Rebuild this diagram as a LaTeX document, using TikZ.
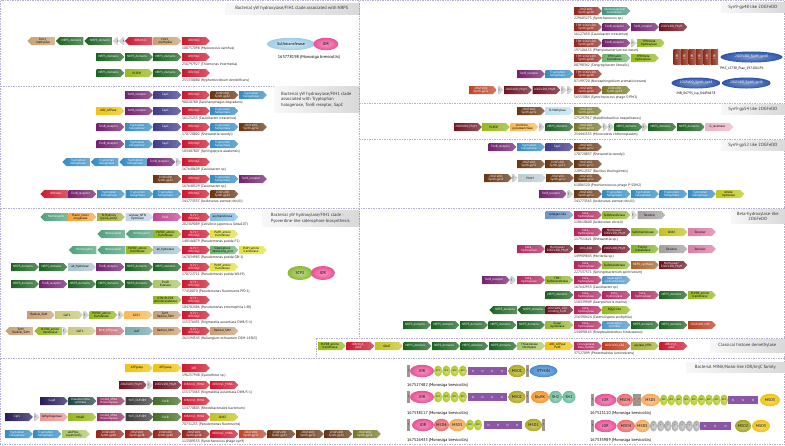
\documentclass[tikz,border=0pt]{standalone}
\usepackage{fontspec}
\setmainfont{PT Sans}
\usetikzlibrary{shapes.symbols,shapes.geometric,positioning,shadows}

\newcommand\genefont{\fontsize{3.1}{3.3}\selectfont}
\newcommand\accfont{\fontsize{3.6}{4}\selectfont}
\newcommand\headfont{\fontsize{4.5}{5.4}\selectfont}
\newcommand\domfont{\fontsize{4}{4.4}\selectfont}

% gene types: style name, colour, text colour
\newcommand\gtype[3]{\definecolor{c#1}{RGB}{#2}%
  \tikzset{#1/.style={left color=c#1, right color=c#1!72!white, text=#3}}}
\gtype{gnrps}{30,100,35}{white}
\gtype{gjor}{205,25,50}{white}
\gtype{gtonb}{115,35,110}{white}
\gtype{gsapc}{65,60,140}{white}
\gtype{gtrp}{55,140,195}{white}
\gtype{gs48}{150,40,30}{white}
\gtype{gs52}{105,55,20}{white}
\gtype{gs52r}{190,70,40}{white}
\gtype{gs54}{120,120,40}{white}
\gtype{gphyh}{110,20,35}{white}
\gtype{gcmr}{200,160,115}{black}
\gtype{ghemo}{80,160,125}{white}
\gtype{gplp}{150,185,30}{black}
\gtype{gyel}{225,225,70}{black}
\gtype{gabc}{240,195,20}{black}
\gtype{gbeta}{180,40,95}{white}
\gtype{gsulfo}{150,185,55}{black}
\gtype{gtet}{165,160,160}{black}
\gtype{gtetp}{220,125,165}{black}
\gtype{ggnat}{195,195,40}{black}
\gtype{ggat}{200,200,125}{black}
\gtype{gteal}{120,170,170}{black}
\gtype{gflav}{245,165,55}{black}
\gtype{golv}{165,175,60}{black}
\gtype{gacyl}{195,210,230}{black}
\gtype{gpvd}{195,70,145}{white}
\gtype{gablh}{170,195,205}{black}
\gtype{gnavy}{40,30,90}{white}
\gtype{gdteal}{35,70,70}{white}
\gtype{gmnm}{150,50,100}{white}
\gtype{gdgrey}{60,60,60}{white}
\gtype{gpurb}{70,110,40}{white}
\gtype{grose}{230,150,150}{black}
\gtype{glblue}{190,225,240}{black}
\gtype{gcoll}{110,150,200}{black}
\gtype{gorng}{250,185,80}{black}
\gtype{gamide}{190,200,30}{black}
\gtype{gbrn}{170,100,40}{white}
\gtype{gasn}{80,150,200}{white}
\gtype{gcas}{190,60,30}{white}
\gtype{gracem}{235,180,200}{black}
\gtype{gformyl}{130,180,40}{black}
\gtype{gsid}{110,180,110}{black}
\gtype{gacyt}{130,190,225}{black}
\gtype{gphoh}{190,205,210}{black}
\gtype{gtrans}{70,150,130}{white}
\gtype{gbtrk}{200,110,120}{white}
\gtype{gthio}{170,200,100}{black}
\gtype{gq}{205,205,205}{black}
\tikzset{gq/.append style={minimum width=5.5, inner xsep=0pt}}

\definecolor{cframe}{RGB}{180,175,210}
\definecolor{cdjor}{RGB}{235,80,150}
\definecolor{cdscc}{RGB}{175,200,40}
\definecolor{cdn}{RGB}{140,85,165}
\definecolor{cdmsdone}{RGB}{175,170,30}
\definecolor{cdmsdtwo}{RGB}{165,165,30}
\definecolor{cdmsdthree}{RGB}{240,195,20}
\definecolor{cdmsdfour}{RGB}{235,110,110}
\definecolor{cdmsdfive}{RGB}{245,170,90}
\definecolor{cdsty}{RGB}{70,140,210}
\definecolor{cdgly}{RGB}{245,150,40}
\definecolor{cdsh}{RGB}{110,190,160}
\definecolor{cdgrey}{RGB}{170,170,170}
\definecolor{cdq}{RGB}{160,150,140}
\definecolor{cdsulfo}{RGB}{160,205,230}
\definecolor{cdscp}{RGB}{140,185,50}
\definecolor{cdtpr}{RGB}{140,45,25}
\definecolor{cdgp}{RGB}{45,85,170}

% one row of gene arrows: name, y, list of x/direction/type/text
\newcommand\generow[3]{\foreach \gx/\gd/\gs/\gt [count=\gi] in {#3}
  {\node[gene,\gd,\gs] (#1-\gi) at (\gx,#2) {\gt};}}

\begin{document}
\begin{tikzpicture}[x=1pt, y=-1pt,
  gene/.style={signal, signal to=east, anchor=west, minimum width=27.6, minimum height=8,
    inner xsep=0.5pt, inner ysep=0pt, font=\genefont, align=center},
  pr/.style={signal to=east}, pl/.style={signal to=west},
  acc/.style={anchor=west, font=\accfont, inner sep=0pt, text=black!85},
  panel/.style={draw=cframe, line width=0.6pt, dash pattern=on 1.5pt off 1pt},
  head/.style={anchor=north east, font=\headfont, text=black!80, left color=gray!6,
    right color=gray!30, inner sep=1.6pt, align=left,
    drop shadow={shadow xshift=0.7pt, shadow yshift=-0.7pt, opacity=0.3}},
  dom/.style={ellipse, font=\domfont, inner sep=0pt, minimum height=12.5,
    shading=radial},
  scc/.style={ellipse, inner sep=0pt, minimum width=8.2, minimum height=11,
    font=\fontsize{2.4}{2.6}\selectfont, shading=radial, inner color=cdscc!60!white,
    outer color=cdscc},
  nseg/.style={rectangle, inner sep=0pt, minimum height=8, fill=cdn, text=white,
    font=\fontsize{3}{3.2}\selectfont},
  qbox/.style={rectangle, inner sep=0pt, minimum width=3.6, minimum height=12,
    fill=cdq, font=\fontsize{2.6}{2.8}\selectfont},
  tprbox/.style={rectangle, inner sep=0pt, minimum width=7, minimum height=15,
    left color=cdtpr, right color=cdtpr!70!white, text=white,
    font=\fontsize{3}{3.2}\selectfont},
  spec/.style={anchor=west, font=\fontsize{4.2}{4.6}\selectfont, inner sep=0pt}]
\useasboundingbox (0,0) rectangle (785,445);

% panel frames
\draw[panel] (0.5,0.5) rectangle (784.5,444.5);
\draw[panel] (359,0.5) -- (359,338);
\draw[panel] (0.5,86) -- (359,86);
\draw[panel] (0.5,208) -- (784.5,208);
\draw[panel] (359,103) -- (784.5,103);
\draw[panel] (359,139) -- (784.5,139);
\draw[panel] (316,338) -- (784.5,338);
\draw[panel] (316,338) -- (316,358);
\draw[panel] (0.5,358) -- (784.5,358);

% panel titles
\node[head, minimum width=134, minimum height=11] (t-nrps) at (359,3)
  {Bacterial yW hydroxylase/FIH1 clade associated with NRPS};
\node[head, minimum width=85, minimum height=26] (t-trp) at (359,86.5)
  {Bacterial yW hydroxylase/FIH1 clade\\associated with Tryptophan\\halogenase, TonB receptor, SapC};
\node[head, minimum width=97, minimum height=16] (t-pvd) at (359,210)
  {Bacterial yW hydroxylase/FIH1 clade :\\Pyoverdine-like siderophore biosynthesis};
\node[head, minimum width=64, minimum height=10] (t-gp48) at (785,2) {Syn9-gp48 like 2OGFeDO};
\node[head, minimum width=64, minimum height=10] (t-gp54) at (785,104) {Syn9-gp54 like 2OGFeDO};
\node[head, minimum width=64, minimum height=10] (t-gp52) at (785,140) {Syn9-gp52 like 2OGFeDO};
\node[head, minimum width=54, minimum height=14, align=center] (t-beta) at (785,209)
  {Beta-hydroxylase-like\\2OGFeDO};
\node[head, minimum width=75, minimum height=13] (t-hist) at (785,339) {Classical histone demethylase};
\node[head, minimum width=99, minimum height=10] (t-mina) at (785,362)
  {Bacterial MINA/No66-like JOR/JmjC family};

% NRPS clade
\generow{na}{41}{27/pl/gcmr/{Cmr1\_\\methylase}, 55.5/pl/gnrps/NRPS\_domains, 84/pl/gnrps/NRPS\_domains,
  112.5/pl/gq/2, 118.5/pl/gq/3, 124.5/pl/gjor/{JOR/JmjC}, 153.5/pr/gcmr/{Cmr1\_\\methylase},
  182/pr/gjor/{JOR/JmjC}}
\node[acc] (na-id) at (182,49) {108757098 (Myxococcus xanthus)};
\generow{nb}{57}{96.5/pr/gnrps/NRPS\_domains, 125/pr/gnrps/NRPS\_domains, 153.5/pr/gnrps/NRPS\_domains,
  182/pr/gjor/{JOR/JmjC}}
\node[acc] (nb-id) at (182,65) {256797927 (Thiomonas intermedia)};
\generow{nc}{73}{96.5/pr/gnrps/NRPS\_domains, 125/pr/gplp/PLPDE, 153.5/pr/gnrps/NRPS\_domains,
  182/pr/gjor/{JOR/JmjC}}
\node[acc] (nc-id) at (182,81) {255330080 (Hyphomicrobium denitrificans)};
\node[dom, inner color=cdsulfo!50!white, outer color=cdsulfo, minimum width=48] (n-sulfo) at (291,44) {Sulfotransferase};
\node[dom, inner color=cdjor!60!white, outer color=cdjor, minimum width=25, right=-2pt of n-sulfo] (n-jor) {JOR};
\node[font=\fontsize{4.3}{4.6}\selectfont, inner sep=0pt] (n-id) at (309,57) {163778198 (Monosiga brevicollis)};

% Tryptophan halogenase / TonB / SapC clade
\generow{ta}{95}{125/pr/gtonb/TonB\_receptor, 153.5/pr/gsapc/SapC, 182/pr/gjor/{JOR/JmjC},
  210.5/pr/gs52/{2OGFeDO\\Synth-gp52}, 239/pr/gtrp/{Tryptophan\\halogenase}}
\node[acc] (ta-id) at (182,103) {90020780 (Saccharophagus degradans)};
\generow{tb}{111}{96.5/pr/gabc/ABC\_ATPase, 125/pr/gtonb/TonB\_receptor, 153.5/pr/gsapc/SapC,
  182/pr/gjor/{JOR/JmjC}, 210.5/pr/gtrp/{Tryptophan\\halogenase}}
\node[acc] (tb-id) at (182,119) {16125253 (Caulobacter crescentus)};
\generow{tc}{127}{96.5/pr/gtonb/TonB\_receptor, 125/pr/gtrp/{Tryptophan\\halogenase}, 153.5/pr/gsapc/SapC,
  182/pr/gjor/{JOR/JmjC}, 210.5/pr/gtrp/{Tryptophan\\halogenase}, 239/pr/gs52/{2OGFeDO\\Synth-gp52}}
\node[acc] (tc-id) at (182,135) {170720802 (Shewanella woodyi)};
\generow{td}{144}{96.5/pr/gtonb/TonB\_receptor, 125/pr/gtrp/{Tryptophan\\halogenase}, 153.5/pr/gsapc/SapC,
  182/pr/gjor/{JOR/JmjC}, 210.5/pr/gtrp/{Tryptophan\\halogenase}}
\node[acc] (td-id) at (182,152) {103487807 (Sphingopyxis alaskensis)};
\generow{te}{162}{62/pl/gtrp/{Tryptophan\\halogenase}, 90.5/pl/gtrp/{Tryptophan\\halogenase},
  119/pl/gtrp/{Tryptophan\\halogenase}, 147.5/pr/gtonb/TonB\_receptor, 175.8/pr/gq/?, 182/pr/gjor/{JOR/JmjC}}
\node[acc] (te-id) at (182,170) {167648609 (Caulobacter sp.)};
\generow{tf}{179}{153.5/pr/gs52/{2OGFeDO\\Synth-gp52}, 182/pr/gjor/{JOR/JmjC},
  210.5/pr/gtrp/{Tryptophan\\halogenase}, 239/pr/gtonb/TonB\_receptor}
\node[acc] (tf-id) at (182,187) {167640329 (Caulobacter sp.)};
\generow{tg}{194}{40/pl/gjor/{JOR/JmjC}, 68.5/pr/gtonb/TonB\_receptor, 97/pr/gtrp/{Tryptophan\\halogenase},
  125.5/pr/gtrp/{Tryptophan\\halogenase}, 153.5/pr/gtrp/{Tryptophan\\halogenase}, 182/pr/gjor/{JOR/JmjC},
  210.5/pr/gs52/{2OGFeDO\\Synth-gp52}}
\node[acc] (tg-id) at (182,202) {241773337 (Acidovorax avenae citrulli)};

% Pyoverdine-like siderophore clade
\generow{pa}{217}{40/pl/ghemo/Hemocyanin, 68.5/pr/gflav/{Flavin\_mono\\oxygenase}, 97/pr/golv/{N-Hydroxy\\lysine\_acetyl},
  125.5/pr/gacyl/{acylase\_NTN\\hydrolase}, 153.5/pr/gpvd/PvdL, 182/pr/gjor/{SCP2+\\JOR/JmjC},
  210.5/pr/gacyt/acyltransferase}
\node[acc] (pa-id) at (182,225) {282369089 (Cellvibrio japonicus Ueda107)};
\generow{pb}{234}{97/pl/ghemo/Hemocyanin, 125.5/pl/ghemo/Hemocyanin, 153.5/pr/gplp/{PLPDE\_amino\\transferase},
  182/pr/gjor/{SCP2+\\JOR/JmjC}, 210.5/pr/gyel/{PvdH\_amino\\transferase}}
\node[acc] (pb-id) at (182,242) {148546879 (Pseudomonas putida F1)};
\generow{pc}{250}{68.5/pl/ghemo/Hemocyanin, 97/pl/ghemo/Hemocyanin, 125.5/pr/gplp/{PLPDE\_amino\\transferase},
  153.5/pr/gablh/ab\_hydrolase, 182/pr/gjor/{SCP2+\\JOR/JmjC}, 210.5/pr/gsid/{Siderophore\\interacting\_prot},
  239/pr/gyel/{PvdH\_amino\\transferase}}
\node[acc] (pc-id) at (182,258) {167034983 (Pseudomonas putida GB-1)};
\generow{pd}{267}{11/pr/gnrps/NRPS\_domains, 39.5/pr/gnrps/NRPS\_domains, 68/pr/gablh/ab\_hydrolase,
  96.5/pr/gtonb/TonB\_receptor, 125/pr/gnrps/NRPS\_domains, 153.5/pr/gnrps/NRPS\_domains,
  182/pr/gjor/{SCP2+\\JOR/JmjC}, 210.5/pr/gyel/{PvdH\_amino\\transferase}}
\node[acc] (pd-id) at (182,275) {170722711 (Pseudomonas putida W619)};
\generow{pe}{284}{11/pr/gnrps/NRPS\_domains, 39.5/pr/gtonb/TonB\_receptor, 68/pr/gnrps/NRPS\_domains,
  96.5/pr/gnrps/NRPS\_domains, 125/pr/gnrps/NRPS\_domains, 153.5/pr/gthio/{PvdO\\Esterase},
  182/pr/gjor/{SCP2+\\JOR/JmjC}}
\node[acc] (pe-id) at (182,292) {77458070 (Pseudomonas fluorescens Pf0-1)};
\generow{pf}{300}{153.5/pr/gplp/{KTN+PLPDE\\aminotransferase}, 182/pr/gjor/{SCP2+\\JOR/JmjC}}
\node[acc] (pf-id) at (182,308) {104782486 (Pseudomonas entomophila L48)};
\generow{pg}{315}{27/pr/gcmr/Radical\_SAM, 55/pr/ggat/GAT1, 83.5/pr/gq/?, 89.5/pr/gplp/{PLPDE\_amino\\transferase},
  118.5/pr/gq/?, 124.5/pr/gorng/GCS2, 153.5/pr/gcmr/{TyrM\_\\Radical\_SAM}, 182/pr/gjor/{SCP2+\\JOR/JmjC}}
\node[acc] (pg-id) at (182,323) {115376491 (Stigmatella aurantiaca DW4/3-1)};
\generow{ph}{331}{5/pl/gcmr/{TyrM\_\\Radical\_SAM}, 34/pl/gplp/{PLPDE\_amino\\transferase}, 62.5/pr/gq/?,
  68/pr/ggat/GAT1, 96.5/pr/gbtrk/BtrK\_ATPgrasp, 125/pr/gteal/GAT, 153.5/pr/gcmr/Radical\_SAM,
  182/pr/gjor/{SCP2+\\JOR/JmjC}, 210.5/pr/gcmr/Radical\_SAM}
\node[acc] (ph-id) at (182,339) {262194543 (Haliangium ochraceum DSM 14365)};
\node[dom, inner color=cdscp!55!white, outer color=cdscp, minimum width=25, minimum height=14] (p-scp) at (300,273) {SCP2};
\node[dom, inner color=cdjor!60!white, outer color=cdjor, minimum width=24, minimum height=14, right=-2pt of p-scp] (p-jor) {JOR};

% MINA-like JOR/JmjC genes
\generow{ma}{368}{125/pr/gabc/ATPgrasp, 153.5/pr/gabc/ATPgrasp, 182/pr/gjor/JOR/JmjC\_MINA}
\node[acc] (ma-id) at (182,376) {196257948 (Cyanothece sp.)};
\generow{mb}{385}{119/pr/gphyh/2OGFeDO\_PhyH, 147.3/pr/gq/?, 153.5/pr/gphyh/2OGFeDO\_PhyH,
  182/pr/gjor/{JOR/JmjC\_MINA}, 210.5/pr/gjor/{JOR/JmjC\_MINA}}
\node[acc] (mb-id) at (182,393) {115375463 (Stigmatella aurantiaca DW4/3-1)};
\generow{mc}{401}{40/pr/gnavy/Cup8, 68.5/pr/gdteal/{Pseudouridine\\synthase}, 97/pr/gmnm/{mnmA\_tRNA\\thiouridylase},
  125.5/pr/gdgrey/YcfC\_DUF489, 153.5/pr/gpurb/PurB, 182/pr/gjor/{JOR/JmjC\_MINA}}
\node[acc] (mc-id) at (182,409) {114770805 (Rhodobacterales bacterium)};
\generow{md}{417}{5/pr/gnavy/ClpS, 34/pr/gq/?, 40/pr/grose/dehydrogenase, 68.5/pr/gplp/MoaD,
  97/pr/gmnm/{mnmA\_tRNA\\thiouridylase}, 125.5/pr/gdgrey/YcfC\_DUF489, 153.5/pr/gpurb/PurB,
  182/pr/gjor/{JOR/JmjC\_MINA}, 210.5/pr/ggnat/GNAT}
\node[acc] (md-id) at (182,425) {70731235 (Pseudomonas fluorescens)};
\generow{me}{434}{5/pr/gtrp/{Tryptophan\\halogenase}, 33.5/pr/gtrp/{Tryptophan\\halogenase},
  62/pr/gthio/{alkPhos\_\\superfamily}, 96.5/pr/gs48/{2OGFeDO\\Synth-gp48}, 125/pr/gs48/{2OGFeDO\\Synth-gp48},
  153.5/pr/gs48/{2OGFeDO\\Synth-gp48}, 182/pr/gs48/{2OGFeDO\\Synth-gp48}, 210.5/pr/gjor/{JOR/JmjC\_MINA},
  239/pr/gs52r/{2OGFeDO\\Synth-gp52}, 267.5/pr/gs52/{2OGFeDO\\Synth-gp52}, 296/pr/gs52/{2OGFeDO\\Synth-gp52},
  324.5/pr/gs52/{2OGFeDO\\Synth-gp52}, 353/pr/gs54/{2OGFeDO\\Synth-gp54}}
\node[acc] (me-id) at (182,442) {113389553 (Synechococcus phage syn9)};

% Syn9-gp48 like
\generow{ra}{11}{574/pr/gs48/{2OGFeDO\\Synth-gp48}, 602.5/pr/gtrans/{transhexaprenyl\\transferase}}
\node[acc] (ra-id) at (574,19) {229605275 (Synechococcus sp.)};
\generow{rb}{27}{574/pr/gs48/{TPR+2OGFeDO\\Synth-gp48}, 602.5/pr/gtonb/TonB\_receptor,
  631/pr/gtonb/TonB\_receptor, 659.5/pr/gphyh/2OGFeDO\_PhyH}
\node[acc] (rb-id) at (574,35) {16127650 (Caulobacter crescentus)};
\generow{rc}{43}{574/pr/gs48/{TPR+2OGFeDO\\Synth-gp48}, 602.5/pr/gtonb/TonB\_receptor, 631/pr/gq/?,
  637/pr/gplp/{TPR+beta\\hydroxylase}}
\node[acc] (rc-id) at (574,51) {197106155 (Phenylobacterium zucineum)};
\generow{rd}{58}{574/pr/gs48/{TPR+2OGFeDO\\Synth-gp48}, 602.5/pr/gsid/{TPR+sulfo\\transferase},
  631/pr/gplp/{TPR+beta\\hydroxylase}}
\node[acc] (rd-id) at (574,66) {88798342 (Congregibacter litoralis)};
\generow{re}{74}{517/pr/gtonb/TonB\_receptor, 545.5/pr/gtrp/{Tryptophan\\halogenase},
  574/pr/gs48/{TPR+2OGFeDO\\Synth-gp48}}
\node[acc] (re-id) at (574,82) {87199720 (Novosphingobium aromaticivorans)};
\generow{rf}{90}{469/pr/gs52r/{2OGFeDO\\Synth-gp52}, 498/pr/gq/?, 504/pr/gphyh/2OGFeDO\_PhyH,
  532.5/pr/gphyh/2OGFeDO\_PhyH, 561/pr/gq/?, 567/pr/gq/?, 574/pr/gs48/{2OGFeDO\\Synth-gp48},
  602.5/pr/gs54/{2OGFeDO\\Synth-gp54}}
\node[acc] (rf-id) at (574,98) {56553084 (Synechococcus phage S-PM2)};
\foreach \i in {1,...,6}
  \node[tprbox] (tpr\i) at (669.5+7.5*\i,57) {\rotatebox{90}{TPR}};
\node[dom, inner color=cdgp!60!white, outer color=cdgp, text=white, minimum width=62, minimum height=11,
  font=\fontsize{3.4}{3.6}\selectfont] (gp-a) at (751.5,57) {2OGFeDO\_Synth\_gp48};
\node[font=\fontsize{3.5}{3.8}\selectfont, inner sep=0pt] (gp-a-id) at (742,69) {PHZ\_c2738\_Psac\_197106191};
\node[dom, inner color=cdgp!60!white, outer color=cdgp, text=white, minimum width=49, minimum height=11,
  font=\fontsize{3.4}{3.6}\selectfont] (gp-b) at (696,83) {2OGFeDO\_Synth\_gp48};
\node[dom, inner color=cdgp!60!white, outer color=cdgp, text=white, minimum width=49, minimum height=11,
  font=\fontsize{3.4}{3.6}\selectfont, right=1pt of gp-b] (gp-c) {2OGFeDO\_Synth\_gp48};
\node[font=\fontsize{3.5}{3.8}\selectfont, inner sep=0pt] (gp-b-id) at (696,94) {JNB\_06795\_Jsp\_84494478};

% Syn9-gp54 like
\generow{sa}{111}{517/pr/gs52/{2OGFeDO\\Synth-gp52}, 545.5/pr/glblue/O-Methylase, 574/pr/gs54/{2OGFeDO\\Synth-gp54}}
\node[acc] (sa-id) at (574,119) {175297917 (Halothiobacillus neapolitanus)};
\generow{sb}{127}{454/pr/gphyh/2OGFeDO\_PhyH, 482/pr/gplp/PLPDE, 510.5/pr/gorng/{ornithine\_\\cyclodeaminase},
  539/pr/gq/?, 545.5/pr/gnrps/NRPS\_domains, 574/pr/gs54/{2OGFeDO\\Synth-gp54}, 602.5/pr/gq/?,
  608.5/pr/gq/?, 614.5/pr/gnrps/NRPS\_domains, 642.5/pr/gq/?, 648.5/pr/gnrps/NRPS\_domains,
  677/pr/gnrps/NRPS\_domains, 705.5/pr/gracem/G\_racemase}
\node[acc] (sb-id) at (574,135) {254441555 (Microcoleus chthonoplastes)};

% Syn9-gp52 like
\generow{ua}{147}{488.5/pr/gtonb/TonB\_receptor, 517/pr/gtrp/{Tryptophan\\halogenase}, 545.5/pr/gsapc/SapC,
  574/pr/gs52/{2OGFeDO\\Synth-gp52}}
\node[acc] (ua-id) at (574,155) {170720837 (Shewanella woodyi)};
\generow{ub}{164}{517/pr/gs52/{2OGFeDO\\Synth-gp52}, 545.5/pr/gs52/{2OGFeDO\\Synth-gp52},
  574/pr/gs52/{2OGFeDO\\Synth-gp52}}
\node[acc] (ub-id) at (574,172) {228912337 (Bacillus thuringiensis)};
\generow{uc}{178}{484/pr/gs52/{2OGFeDO\\Synth-gp52}, 512/pr/gq/?, 518/pr/gphoh/PhoH,
  546/pr/gs52/{2OGFeDO\\Synth-gp52}, 574/pr/gs52/{2OGFeDO\\Synth-gp52}}
\node[acc] (uc-id) at (574,186) {61806520 (Prochlorococcus phage P-SSM2)};
\generow{ud}{194}{539/pr/gtonb/TonB\_receptor, 567.5/pr/gq/?, 574/pr/gs52/{2OGFeDO\\Synth-gp52},
  602.5/pr/gtrp/{Tryptophan\\halogenase}, 631/pr/gtrp/{Tryptophan\\halogenase}, 659.5/pr/gtrp/{Tryptophan\\halogenase},
  688/pr/gtrp/{Tryptophan\\halogenase}, 716.5/pr/gamide/{Amide\\hydrolase}}
\node[acc] (ud-id) at (574,202) {241773565 (Acidovorax avenae citrulli)};

% Beta-hydroxylase-like
\generow{va}{215}{545.5/pr/gcoll/collagen-like, 574/pr/gbeta/{beta\_\\hydroxylase}, 602.5/pr/gsulfo/Sulfotransferase,
  631.5/pr/gq/?, 637.5/pr/gtet/Tetcoller}
\node[acc] (va-id) at (574,223) {120610600 (Acidovorax citrulli)};
\generow{vb}{232}{574/pr/gbeta/{beta\_\\hydroxylase}, 602.5/pr/gphyh/{Methylase+\\2OGFeDO\_PhyH},
  631/pr/gsulfo/Sulfotransferase, 659.5/pr/ggnat/GNAT, 688/pr/gtetp/Tetcoller}
\node[acc] (vb-id) at (574,240) {117921621 (Shewanella sp.)};
\generow{vc}{249}{517/pr/gbeta/{beta\_\\hydroxylase}, 545.5/pr/gphyh/{Methylase+\\2OGFeDO\_PhyH},
  574/pr/gphyh/2OG\_ASO, 602.5/pr/gphyh/2OGFeDO\_PhyH, 631/pr/gformyl/{Formyl\\transferase},
  659.5/pr/gtet/Tetcoller, 688/pr/gtetp/Tetcoller}
\node[acc] (vc-id) at (574,257) {149909843 (Moritella sp.)};
\generow{vd}{265}{574/pr/gbeta/{beta\_\\hydroxylase}, 602.5/pr/gsulfo/Sulfotransferase, 631/pr/gbrn/NRPS\_synthase,
  659.5/pr/gphyh/{Methylase+\\2OGFeDO\_PhyH}}
\node[acc] (vd-id) at (574,273) {227537371 (Sphingobacterium spiritivorum)};
\generow{ve}{280}{482/pr/gtonb/TonB\_receptor, 510.5/pr/gq/?, 517/pr/gbeta/{beta\_\\hydroxylase},
  545.5/pr/gsulfo/{TPR+\\Sulfotransferase}, 574/pr/gbeta/{beta\_\\hydroxylase},
  602.5/pr/gasn/{Asparagine\\oxidoreductase}}
\node[acc] (ve-id) at (574,288) {167642953 (Caulobacter sp.)};
\generow{vf}{295}{545.5/pr/gnrps/NRPS\_domains, 574/pr/gbeta/{beta\_\\hydroxylase}, 602.5/pr/gbeta/{beta\_\\hydroxylase},
  631/pr/gbeta/{beta\_\\hydroxylase}, 659.5/pr/gnrps/NRPS\_domains, 688/pr/gplp/{PLPDE\_amino\\transferase}}
\node[acc] (vf-id) at (574,303) {158339909 (Acaryochloris marina)};
\generow{vg}{310}{489/pl/gnrps/NRPS\_domains, 517/pl/gnrps/NRPS\_domains, 545.5/pr/gphyh/{2OGFeDO\_ASO\\binding\_Syn9},
  574/pr/gbeta/{beta\_\\hydroxylase}, 602.5/pr/gplp/PQQC-like}
\node[acc] (vg-id) at (574,318) {256390424 (Catenulispora acidiphila)};
\generow{vh}{325}{403/pr/gnrps/NRPS\_domains, 431.5/pr/gnrps/NRPS\_domains, 460/pr/gnrps/NRPS\_domains,
  488.5/pr/gnrps/NRPS\_domains, 517/pr/gnrps/NRPS\_domains, 545.5/pr/gsulfo/{Sugar\\epimerase},
  574/pr/gbeta/{beta\_\\hydroxylase}, 602.5/pr/gasn/{Asparagine\\synthase}, 631/pr/gnrps/NRPS\_domains,
  659.5/pr/gnrps/NRPS\_domains, 688/pr/gcas/2OGFeDO\_CAS}
\node[acc] (vh-id) at (574,333) {134098163 (Streptoalloteichus hindustanus)};

% Classical histone demethylase
\generow{ha}{346}{318/pr/gplp/{PLPDE\_amino\\transferase}, 346.5/pr/gjor/{JOR/JmjC\_\\yxbC}, 375/pr/ggnat/GNAT,
  403.5/pr/gnrps/NRPS\_domains, 432/pr/gnrps/NRPS\_domains, 460.5/pr/gnrps/NRPS\_domains,
  489/pr/gnrps/NRPS\_domains, 517.5/pr/gthio/{Thioesterase\\Methylase}, 545.5/pr/gabc/{ABC\_ATPase\\PvdE},
  574/pr/gbeta/{Dioxygenase\\beta\_hydrox}, 602.5/pr/gcas/2OGFeDO\_CAS, 631/pr/golv/acylase\_NTN,
  659.5/pr/gjor/{JOR/JmjC\_\\yxbC}}
\node[acc] (ha-id) at (574,354) {37527099 (Photorhabdus luminescens)};

% Monosiga brevicollis MINA/NO66-like domain architectures
\node[qbox] (m1-q) at (408.5,371) {?};
\node[dom, inner color=cdjor!60!white, outer color=cdjor, minimum width=24] (m1-jor) at (422,371) {JOR};
\foreach \i in {1,...,4} \node[scc] (m1-s\i) at (429.9+8.25*\i,371) {SCC};
\foreach \i in {1,...,4} \node[nseg, minimum width=9.75] (m1-n\i) at (463.1+9.75*\i,371) {N};
\node[dom, inner color=cdmsdone!60!white, outer color=cdmsdone, minimum width=17] (m1-msd) at (517,371) {MSD1};
\node[qbox] (m1-q2) at (527.5,371) {?};
\node[dom, inner color=cdsty!60!white, outer color=cdsty, minimum width=28] (m1-sty) at (543.5,371) {STYKIN};
\node[spec] (m1-id) at (407,385) {167527482 (Monosiga brevicollis)};

\node[qbox] (m2-q) at (408.5,397) {?};
\node[dom, inner color=cdjor!60!white, outer color=cdjor, minimum width=24] (m2-jor) at (422,397) {JOR};
\foreach \i in {1,...,4} \node[scc] (m2-s\i) at (429.9+8.25*\i,397) {SCC};
\foreach \i in {1,...,4} \node[nseg, minimum width=9.75] (m2-n\i) at (463.1+9.75*\i,397) {N};
\node[dom, inner color=cdmsdone!60!white, outer color=cdmsdone, minimum width=17] (m2-msd) at (517,397) {MSD1};
\node[qbox] (m2-q2) at (527.5,397) {?};
\node[dom, inner color=cdgly!60!white, outer color=cdgly, minimum width=18] (m2-gly) at (540,397) {GlyRK};
\node[dom, inner color=cdsh!60!white, outer color=cdsh, minimum width=13] (m2-sha) at (555.5,397) {SH2};
\node[dom, inner color=cdsh!60!white, outer color=cdsh, minimum width=13] (m2-shb) at (569,397) {SH2};
\node[spec] (m2-id) at (407,413) {167538117 (Monosiga brevicollis)};

\node[qbox] (m3-q) at (408.5,425) {?};
\node[dom, inner color=cdjor!60!white, outer color=cdjor, minimum width=22] (m3-jor) at (423,425) {JOR};
\node[dom, inner color=cdmsdfour!60!white, outer color=cdmsdfour, minimum width=15] (m3-m4) at (441.5,425) {MSD4};
\node[dom, inner color=cdmsdfive!60!white, outer color=cdmsdfive, minimum width=17] (m3-m5) at (457.5,425) {MSD5};
\foreach \i in {1,2} \node[scc] (m3-s\i) at (462+8*\i,425) {SCC};
\foreach \i in {1,...,4} \node[nseg, minimum width=9.5] (m3-n\i) at (479.25+9.5*\i,425) {N};
\node[dom, inner color=cdmsdone!60!white, outer color=cdmsdone, minimum width=17] (m3-msd) at (533.5,425) {MSD1};
\node[qbox] (m3-q2) at (543.5,425) {?};
\node[spec] (m3-id) at (407,440) {167526435 (Monosiga brevicollis)};

\node[qbox] (ma-q) at (592.5,400) {?};
\node[dom, inner color=cdjor!60!white, outer color=cdjor, minimum width=22] (ma-jor) at (605.5,400) {JOR};
\node[dom, inner color=cdmsdfour!60!white, outer color=cdmsdfour, minimum width=16] (ma-m4) at (625,400) {MSD4};
\node[qbox] (ma-q2) at (635,400) {?};
\node[qbox] (ma-q3) at (639,400) {?};
\node[dom, inner color=cdmsdfive!60!white, outer color=cdmsdfive, minimum width=19] (ma-m5) at (650.5,400) {MSD5};
\foreach \i in {1,...,9} \node[scc, minimum width=7.6] (ma-s\i) at (656.2+7.55*\i,400) {SCC};
\foreach \i in {1,2,3} \node[nseg, minimum width=10] (ma-n\i) at (723+10*\i,400) {N};
\node[dom, inner color=cdmsdthree!60!white, outer color=cdmsdthree, minimum width=20] (ma-m3) at (770,400) {MSD3};
\node[spec] (ma-id) at (590,413) {167525110 (Monosiga brevicollis)};

\node[qbox] (mb-q) at (592.5,426) {?};
\node[dom, inner color=cdjor!60!white, outer color=cdjor, minimum width=22] (mb-jor) at (605.5,426) {JOR};
\node[dom, inner color=cdmsdfour!60!white, outer color=cdmsdfour, minimum width=18] (mb-m4) at (626,426) {MSD4};
\node[dom, inner color=cdmsdfive!60!white, outer color=cdmsdfive, minimum width=15] (mb-m5) at (642.5,426) {MSD5};
\foreach \i in {1,...,7} \node[scc, minimum width=7.2, inner color=cdgrey!50!white, outer color=cdgrey] (mb-g\i) at (646.4+7.15*\i,426) {?};
\foreach \i in {1,2,3} \node[nseg, minimum width=10.3] (mb-n\i) at (694.85+10.3*\i,426) {N};
\node[dom, inner color=cdmsdtwo!60!white, outer color=cdmsdtwo, minimum width=16] (mb-m2) at (743,426) {MSD2};
\node[dom, inner color=cdmsdthree!60!white, outer color=cdmsdthree, minimum width=18] (mb-m3) at (761,426) {MSD3};
\node[spec] (mb-id) at (590,440) {167533989 (Monosiga brevicollis)};
\end{tikzpicture}
\end{document}
